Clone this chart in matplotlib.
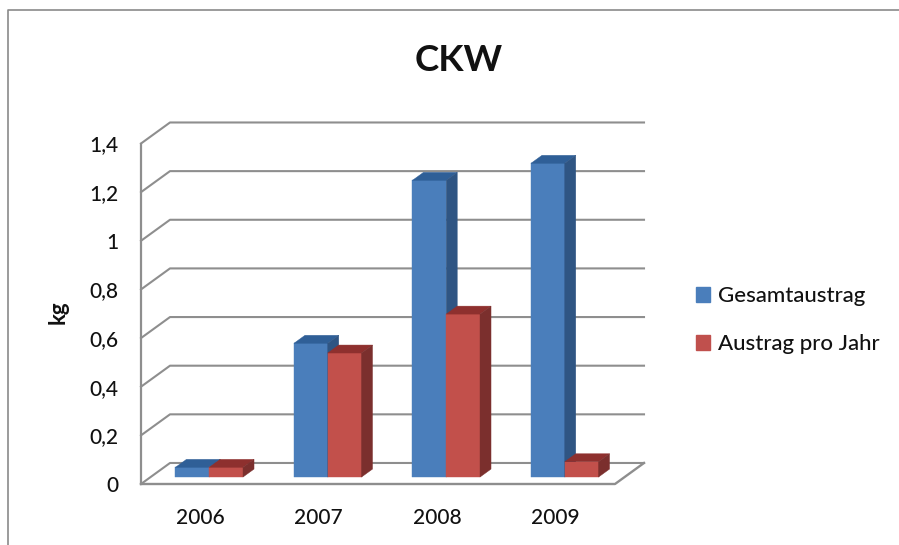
import matplotlib.pyplot as plt
from matplotlib.lines import Line2D
from matplotlib.patches import Patch

years = ['2006', '2007', '2008', '2009']
gesamtaustrag = [0.04, 0.55, 1.22, 1.29]
austrag_pro_jahr = [0.04, 0.51, 0.67, 0.063]
y_ticks = [0, 0.2, 0.4, 0.6, 0.8, 1, 1.2, 1.4]
y_tick_labels = ['0', '0,2', '0,4', '0,6', '0,8', '1', '1,2', '1,4']

FONT = 'Lato'
GRID = '#8e8e8e'
TEXT = '#111111'

# oblique projection: how far the back wall is shifted from the front plane, in data units
DEPTH_X = 29 / 118.5
DEPTH_Y = 21 / 243
BAR_WIDTH = 0.285
BAR_FRONT = 0.33
BAR_BACK = 0.71


def project(x, y, depth):
    return x + depth * DEPTH_X, y + depth * DEPTH_Y


def draw_bar(ax, left, value, front, top, side):
    right = left + BAR_WIDTH
    corners = {
        'fl': project(left, 0, BAR_FRONT),
        'fr': project(right, 0, BAR_FRONT),
        'tl': project(left, value, BAR_FRONT),
        'tr': project(right, value, BAR_FRONT),
        'bl': project(left, value, BAR_BACK),
        'br': project(right, value, BAR_BACK),
        'br0': project(right, 0, BAR_BACK),
    }
    faces = [
        (['fl', 'fr', 'tr', 'tl'], front),
        (['tl', 'tr', 'br', 'bl'], top),
        (['fr', 'br0', 'br', 'tr'], side),
    ]
    for names, color in faces:
        xs, ys = zip(*[corners[n] for n in names])
        ax.fill(xs, ys, color=color, lw=0.3, clip_on=False, zorder=3)


fig = plt.figure(figsize=(8.99, 5.45), dpi=100)
ax = fig.add_axes([141 / 899, 61 / 545, 474 / 899, 340.5 / 545])
ax.set_xlim(0, 4)
ax.set_ylim(0, 1.4)
for spine in ax.spines.values():
    spine.set_visible(False)

# gridlines run along the back wall and come forward to the value axis
for tick in y_ticks:
    back_left = project(0, tick, 1)
    back_right = project(4, tick, 1)
    ax.plot([0, back_left[0], back_right[0]], [tick, back_left[1], back_right[1]],
            color=GRID, lw=1.5, clip_on=False, zorder=1)
ax.plot([0, 0], [0, 1.4], color=GRID, lw=1.6, clip_on=False, zorder=1)
ax.plot([0, 4, project(4, 0, 1)[0]], [0, 0, project(4, 0, 1)[1]],
        color=GRID, lw=1.7, clip_on=False, zorder=1)

for i in range(len(years)):
    start = i + 0.495 - BAR_WIDTH
    draw_bar(ax, start, gesamtaustrag[i], '#4a7ebb', '#2f5f97', '#2f5583')
    draw_bar(ax, start + BAR_WIDTH, austrag_pro_jahr[i], '#c2504b', '#8e302e', '#7b2f2d')

ax.set_xticks([i + 0.5 for i in range(len(years))])
ax.set_xticklabels(years, fontfamily=FONT, fontsize=15, fontweight='medium', color=TEXT)
ax.set_yticks(y_ticks)
ax.set_yticklabels(y_tick_labels, fontfamily=FONT, fontsize=15, fontweight='medium', color=TEXT)
ax.tick_params(axis='x', length=0, pad=17.5)
ax.tick_params(axis='y', length=0, pad=16)

fig.text(58 / 899, 1 - 312 / 545, 'kg', rotation=90, ha='center', va='center',
         fontfamily=FONT, fontsize=16, fontweight='bold', color=TEXT)
fig.text(459 / 899, 1 - 60.5 / 545, 'CKW', ha='center', va='center',
         fontfamily=FONT, fontsize=26.5, fontweight='bold', color=TEXT)

handles = [Patch(color='#4a7ebb', label='Gesamtaustrag'),
           Patch(color='#c0504d', label='Austrag pro Jahr')]
fig.legend(handles=handles, loc='center left', bbox_to_anchor=(676 / 899, 1 - 320 / 545),
           frameon=False, labelcolor=TEXT,
           prop={'family': FONT, 'size': 16, 'weight': 'medium'},
           handlelength=0.65, handleheight=0.65, handletextpad=0.32, labelspacing=1.25)

# outer chart frame
fig.add_artist(Line2D([7.5 / 899, 7.5 / 899, 1], [0, 1 - 10 / 545, 1 - 10 / 545],
                      color='#8a8a8a', lw=1.2))

fig.savefig('out.png', dpi=100)
